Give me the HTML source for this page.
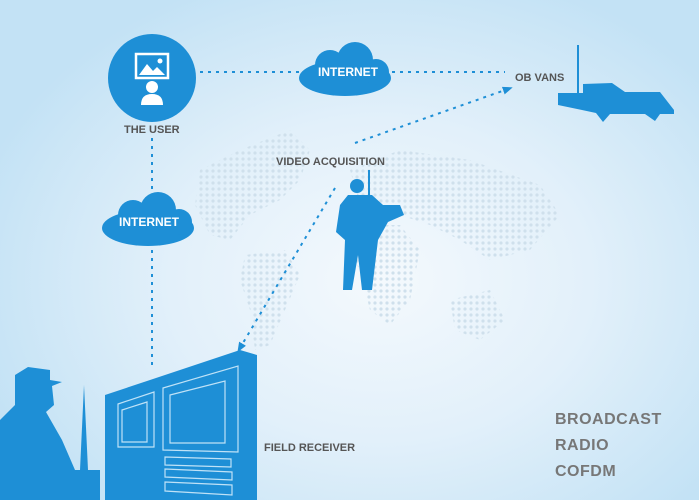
<!DOCTYPE html>
<html><head><meta charset="utf-8"><style>
body{margin:0}
.w{position:relative;width:699px;height:500px;overflow:hidden;background:radial-gradient(ellipse 420px 320px at 380px 280px,#f4f9fd 0%,#e2f0fa 50%,#c3e2f5 100%);font-family:"Liberation Sans",sans-serif}
</style></head><body><div class="w">
<svg width="699" height="500" style="position:absolute;left:0;top:0">
<defs>
<pattern id="d" width="6" height="6" patternUnits="userSpaceOnUse"><circle cx="3" cy="3" r="1.6" fill="#cfe0ec"/></pattern>
<marker id="a" markerUnits="userSpaceOnUse" markerWidth="10" markerHeight="10" refX="5" refY="5" orient="auto"><path d="M0,1 L10,5 L0,9z" fill="#1e8fd6"/></marker>
</defs>
<g fill="url(#d)">
<path d="M200,170 L240,150 L290,130 L310,150 L300,180 L280,200 L250,215 L230,240 L210,235 L195,205z"/>
<path d="M245,255 L285,250 L300,275 L285,310 L270,345 L255,350 L250,310 L240,280z"/>
<path d="M350,170 L400,150 L470,160 L540,185 L560,215 L530,250 L490,260 L460,240 L430,225 L400,215 L360,205z"/>
<path d="M355,225 L400,225 L420,250 L410,300 L390,325 L370,310 L360,270 L345,245z"/>
<path d="M450,300 L490,290 L505,320 L480,340 L455,330z"/>
</g>
<g stroke="#1e8fd6" stroke-width="2" stroke-dasharray="3,5" fill="none">
<line x1="200" y1="72" x2="505" y2="72"/>
<line x1="152" y1="138" x2="152" y2="370"/>
<line x1="355" y1="143" x2="508" y2="89" marker-end="url(#a)"/>
<line x1="335" y1="188" x2="240" y2="348" marker-end="url(#a)"/>
</g>
<circle cx="152" cy="78" r="44" fill="#1e8fd6"/>
<rect x="136" y="54" width="32" height="24" fill="none" stroke="#fff" stroke-width="2.5"/>
<path d="M139,75 L147,64 L153,71 L157,67 L165,75z" fill="#fff"/>
<circle cx="160" cy="61" r="2.5" fill="#fff"/>
<circle cx="152" cy="87" r="6" fill="#fff"/>
<path d="M141,105 Q141,94 152,94 Q163,94 163,105z" fill="#fff"/>
<g fill="#1e8fd6">
<ellipse cx="345" cy="78" rx="46" ry="18"/><circle cx="330" cy="65" r="15"/><circle cx="355" cy="60" r="18"/><circle cx="376" cy="72" r="13"/>
<ellipse cx="148" cy="228" rx="46" ry="18"/><circle cx="133" cy="215" r="15"/><circle cx="158" cy="210" r="18"/><circle cx="179" cy="222" r="13"/>
</g>
<g fill="#1e8fd6">
<rect x="577" y="45" width="2" height="55"/>
<path d="M558,93 L583,93 L583,84 L612,83 L625,92 L660,92 L674,110 L674,114 L660,114 L655,121 L645,114 L610,114 L603,122 L596,113 L582,110 L558,105z"/>
</g>
<g fill="#1e8fd6">
<circle cx="357" cy="186" r="7"/>
<path d="M348,195 L372,195 L383,205 L400,205 L404,215 L388,222 L378,240 L372,290 L362,290 L358,255 L352,290 L343,290 L345,240 L336,232 L340,205z"/>
<rect x="368" y="170" width="2" height="30"/>
</g>
<g fill="#1e8fd6">
<path d="M105,395 L240,350 L257,355 L257,500 L105,500z"/>
<path d="M0,420 L15,405 L15,375 L28,367 L50,370 L50,380 L62,382 L52,386 L54,405 L46,412 L62,440 L75,470 L100,470 L100,500 L0,500z"/>
<path d="M80,470 L84,385 L88,470z"/>
</g>
<g fill="none" stroke="#bfe2f7" stroke-width="1.2">
<path d="M118,404 L154,392 L154,447 L118,447z"/><path d="M122,410 L147,402 L147,442 L122,442z"/>
<path d="M163,388 L238,366 L238,452 L163,450z"/><path d="M170,395 L225,381 L225,443 L170,443z"/>
<path d="M165,457 L231,459 L231,467 L165,465z"/><path d="M165,469 L232,472 L232,480 L165,477z"/><path d="M165,482 L232,485 L232,495 L165,491z"/>
</g>
</svg>
<div style="position:absolute;left:124px;top:124px;font-size:11px;font-weight:bold;color:#555">THE USER</div>
<div style="position:absolute;left:318px;top:65px;font-size:12px;font-weight:bold;color:#fff">INTERNET</div>
<div style="position:absolute;left:119px;top:215px;font-size:12px;font-weight:bold;color:#fff">INTERNET</div>
<div style="position:absolute;left:515px;top:72px;font-size:11px;font-weight:bold;color:#555">OB VANS</div>
<div style="position:absolute;left:276px;top:156px;font-size:11px;font-weight:bold;color:#555">VIDEO ACQUISITION</div>
<div style="position:absolute;left:264px;top:442px;font-size:11px;font-weight:bold;color:#555">FIELD RECEIVER</div>
<div style="position:absolute;left:555px;top:407px;font-size:16px;font-weight:bold;color:#777;line-height:26px;letter-spacing:0.5px">BROADCAST<br>RADIO<br>COFDM</div>
</div></body></html>
